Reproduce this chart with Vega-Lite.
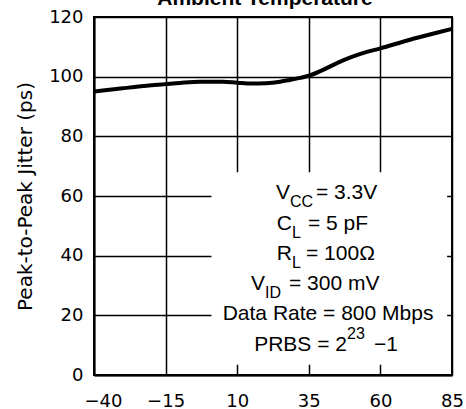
{
  "$schema": "https://vega.github.io/schema/vega-lite/v6.json",
  "width": 358,
  "height": 358,
  "autosize": {"type": "none"},
  "padding": {"left": 94, "top": 17, "right": 14, "bottom": 34},
  "background": "white",
  "config": {
    "view": {"stroke": "black", "strokeWidth": 2},
    "axis": {
      "domainColor": "black", "domainWidth": 2,
      "grid": true, "gridColor": "black", "gridWidth": 1.5, "gridOpacity": 1,
      "ticks": false, "tickSize": 0,
      "labelFont": "DejaVu Sans", "labelFontSize": 18, "labelColor": "black",
      "titleFont": "DejaVu Sans", "titleFontSize": 20, "titleFontWeight": "normal", "titleColor": "black"
    }
  },
  "datasets": {
    "curve": [
      {"temp": -40, "jitter": 95.0},
      {"temp": -30, "jitter": 96.1},
      {"temp": -20, "jitter": 97.1},
      {"temp": -15, "jitter": 97.5},
      {"temp": -10, "jitter": 97.9},
      {"temp": -3, "jitter": 98.3},
      {"temp": 5, "jitter": 98.3},
      {"temp": 10, "jitter": 98.0},
      {"temp": 15, "jitter": 97.7},
      {"temp": 20, "jitter": 97.8},
      {"temp": 25, "jitter": 98.3},
      {"temp": 28.4, "jitter": 98.9},
      {"temp": 32, "jitter": 99.6},
      {"temp": 35, "jitter": 100.3},
      {"temp": 40, "jitter": 102.3},
      {"temp": 45, "jitter": 104.6},
      {"temp": 50, "jitter": 106.6},
      {"temp": 55, "jitter": 108.2},
      {"temp": 60, "jitter": 109.5},
      {"temp": 70, "jitter": 112.3},
      {"temp": 80, "jitter": 114.8},
      {"temp": 85, "jitter": 116.0}
    ],
    "box": [{"x0": 1, "x1": 83.3, "y0": 3.4, "y1": 68}],
    "notes": [
      {"pre": "V", "sub": "CC", "sup": "", "rest": "= 3.3V", "xa": 28.44, "xr": 37.51, "y": 60.84},
      {"pre": "C", "sub": "L", "sup": "", "rest": "= 5 pF", "xa": 29.13, "xr": 34.72, "y": 50.71},
      {"pre": "R", "sub": "L", "sup": "", "rest": "= 100Ω", "xa": 29.13, "xr": 34.02, "y": 40.59},
      {"pre": "V", "sub": "ID", "sup": "", "rest": "= 300 mV", "xa": 19.71, "xr": 28.09, "y": 30.47},
      {"pre": "Data Rate = 800 Mbps", "sub": "", "sup": "", "rest": "", "xa": 78.51, "xr": 78.51, "y": 20.35},
      {"pre": "PRBS = 2", "sub": "", "sup": "23", "rest": "−1", "xa": 48.34, "xr": 57.77, "y": 10.22}
    ]
  },
  "layer": [
    {
      "data": {"name": "box"},
      "mark": {"type": "rect", "fill": "white", "stroke": null},
      "encoding": {
        "x": {"field": "x0", "type": "quantitative", "title": null, "scale": {"domain": [-40, 85], "nice": false, "zero": false},
              "axis": {"values": [-40, -15, 10, 35, 60, 85], "format": "d", "labelPadding": 31, "labelBaseline": "alphabetic", "labelFlush": false, "labelOffset": {"expr": "datum.value === -40 ? 9 : 0"}}},
        "x2": {"field": "x1"},
        "y": {"field": "y0", "type": "quantitative", "title": "Peak-to-Peak Jitter (ps)", "scale": {"domain": [0, 120], "nice": false, "zero": false},
              "axis": {"values": [0, 20, 40, 60, 80, 100, 120], "format": "d", "labelPadding": 11, "labelFlush": false, "titleX": -63, "titleY": 179, "titleBaseline": "alphabetic", "titleAlign": "center", "titleAngle": 270}},
        "y2": {"field": "y1"}
      }
    },
    {
      "data": {"name": "curve"},
      "mark": {"type": "line", "color": "black", "strokeWidth": 4, "interpolate": "monotone"},
      "encoding": {
        "x": {"field": "temp", "type": "quantitative", "title": null},
        "y": {"field": "jitter", "type": "quantitative", "title": "Peak-to-Peak Jitter (ps)"}
      }
    },
    {
      "data": {"values": [{}]},
      "mark": {"type": "text", "font": "Liberation Sans", "fontSize": 21, "fontWeight": "bold", "color": "black", "align": "center", "baseline": "alphabetic"},
      "encoding": {
        "x": {"datum": 19.7, "type": "quantitative", "title": null},
        "y": {"datum": 124, "type": "quantitative", "title": "Peak-to-Peak Jitter (ps)"},
        "text": {"value": "Ambient Temperature"}
      }
    },
    {
      "data": {"name": "notes"},
      "mark": {"type": "text", "font": "Liberation Sans", "fontSize": 21, "color": "black", "align": "right", "baseline": "middle"},
      "encoding": {
        "x": {"field": "xa", "type": "quantitative", "title": null},
        "y": {"field": "y", "type": "quantitative", "title": "Peak-to-Peak Jitter (ps)"},
        "text": {"field": "pre", "type": "nominal"}
      }
    },
    {
      "data": {"name": "notes"},
      "mark": {"type": "text", "font": "Liberation Sans", "fontSize": 16, "color": "black", "align": "left", "baseline": "middle", "dy": 9},
      "encoding": {
        "x": {"field": "xa", "type": "quantitative", "title": null},
        "y": {"field": "y", "type": "quantitative", "title": "Peak-to-Peak Jitter (ps)"},
        "text": {"field": "sub", "type": "nominal"}
      }
    },
    {
      "data": {"name": "notes"},
      "mark": {"type": "text", "font": "Liberation Sans", "fontSize": 16, "color": "black", "align": "left", "baseline": "middle", "dy": -10.5},
      "encoding": {
        "x": {"field": "xa", "type": "quantitative", "title": null},
        "y": {"field": "y", "type": "quantitative", "title": "Peak-to-Peak Jitter (ps)"},
        "text": {"field": "sup", "type": "nominal"}
      }
    },
    {
      "data": {"name": "notes"},
      "mark": {"type": "text", "font": "Liberation Sans", "fontSize": 21, "color": "black", "align": "left", "baseline": "middle"},
      "encoding": {
        "x": {"field": "xr", "type": "quantitative", "title": null},
        "y": {"field": "y", "type": "quantitative", "title": "Peak-to-Peak Jitter (ps)"},
        "text": {"field": "rest", "type": "nominal"}
      }
    }
  ]
}
